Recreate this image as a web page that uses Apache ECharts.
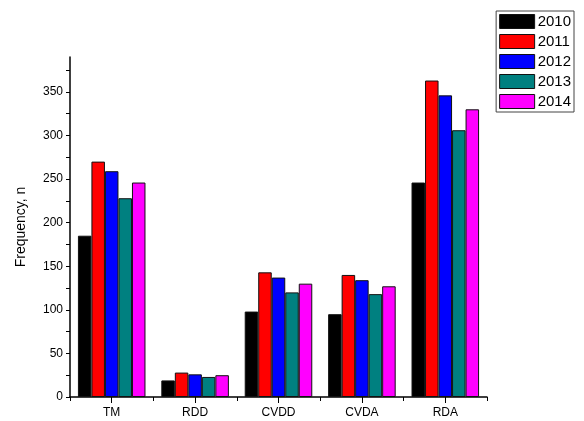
<!DOCTYPE html>
<html>
<head>
<meta charset="utf-8">
<script src="https://cdn.jsdelivr.net/npm/echarts@6/dist/echarts.min.js"></script>
<style>
	html, body { margin: 0; padding: 0; background: #fff; }
	#main { width: 584px; height: 421px; }
</style>
</head>
<body>
<div id="main"></div>
<script>
var categories = ['TM', 'RDD', 'CVDD', 'CVDA', 'RDA'];
var years = ['2010', '2011', '2012', '2013', '2014'];
var colors = ['#000000', '#FF0000', '#0000FF', '#008080', '#FF00FF'];

// one array per year, in category order
var v2010 = [185, 19, 98, 95, 246];
var v2011 = [270, 28, 143, 140, 363];
var v2012 = [259, 26, 137, 134, 346];
var v2013 = [228, 23, 120, 118, 306];
var v2014 = [246, 25, 130, 127, 330];
var values = [v2010, v2011, v2012, v2013, v2014];

var yTicks = [0, 25, 50, 75, 100, 125, 150, 175, 200, 225, 250, 275, 300, 325, 350, 375];
var yLabels = [0, 50, 100, 150, 200, 250, 300, 350];

var font = 'Arial, "Liberation Sans", sans-serif';

var series = [];
for (var i = 0; i < years.length; i++) {
	series.push({
		name: years[i],
		type: 'bar',
		xAxisIndex: 0,
		barGap: 0,
		barCategoryGap: '19%',
		data: values[i],
		itemStyle: {
			color: colors[i],
			borderColor: '#111',
			borderWidth: 1
		}
	});
}

var chart = echarts.init(document.getElementById('main'));
chart.setOption({
	animation: false,
	backgroundColor: '#fff',
	textStyle: { fontFamily: font },
	legend: {
		data: years,
		orient: 'vertical',
		icon: 'rect',
		right: 10,
		top: 11,
		itemWidth: 35,
		itemHeight: 14,
		itemGap: 5,
		padding: [3, 3, 3, 3],
		borderColor: '#444',
		borderWidth: 1,
		textStyle: { fontSize: 15, color: '#000', fontFamily: font, padding: [0, 0, 0, -2] },
		itemStyle: { borderColor: '#111', borderWidth: 1 }
	},
	grid: {
		left: 70,
		right: 97,
		top: 57,
		bottom: 24
	},
	xAxis: [{
		type: 'category',
		data: categories,
		position: 'bottom',
		axisLine: { lineStyle: { color: '#000', width: 1.5 } },
		axisTick: { show: true, length: 4, lineStyle: { color: '#000' } },
		axisLabel: { color: '#000', fontSize: 12, margin: 10, fontFamily: font },
		splitLine: { show: false }
	}, {
		type: 'category',
		data: categories,
		position: 'bottom',
		axisLine: { show: false },
		axisTick: { show: true, alignWithLabel: true, length: 6, lineStyle: { color: '#000' } },
		axisLabel: { show: false },
		splitLine: { show: false }
	}],
	yAxis: {
		type: 'value',
		min: 0,
		max: 390,
		interval: 50,
		name: 'Frequency, n',
		nameLocation: 'middle',
		nameGap: 42,
		nameTextStyle: { color: '#000', fontSize: 14, fontFamily: font },
		axisLine: { show: true, lineStyle: { color: '#000', width: 1.5 } },
		axisTick: { show: true, length: 4, customValues: yTicks, lineStyle: { color: '#000' } },
		axisLabel: { color: '#000', fontSize: 12, margin: 7, customValues: yLabels, fontFamily: font },
		splitLine: { show: false }
	},
	series: series
});
</script>
</body>
</html>
